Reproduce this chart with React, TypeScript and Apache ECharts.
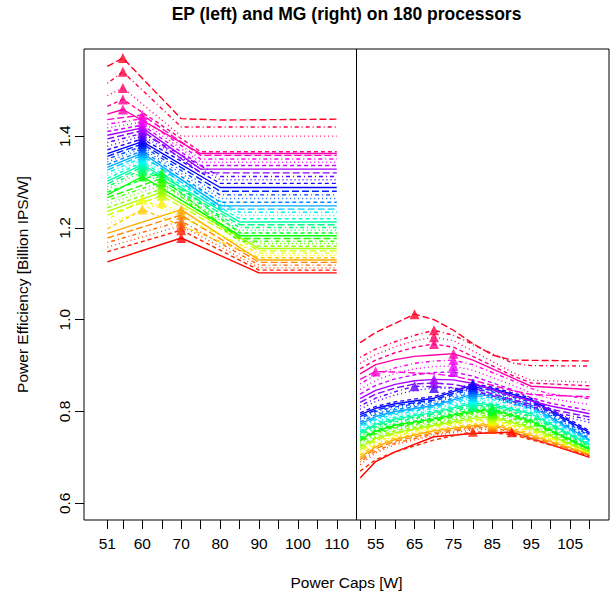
import React, { useEffect, useRef } from "react";
import * as echarts from "echarts";

const TITLE = "EP (left) and MG (right) on 180 processors";
const X_TITLE = "Power Caps [W]";
const Y_TITLE = "Power Efficiency [Billion IPS/W]";
const TICK_CAPS = [51, 55, 60, 65, 70, 75, 80, 85, 90, 95, 100, 105, 110];
const EP_LABEL_CAPS = [51, 60, 70, 80, 90, 100, 110];
const MG_LABEL_CAPS = [55, 65, 75, 85, 95, 105];
const Y_TICKS = [0.6, 0.8, 1.0, 1.2, 1.4];
const MG_OFFSET = 65; // the MG panel sits to the right of EP on one shared axis
const DIVIDER = 115;

// EP: [power cap W, efficiency] at the visible vertices of every 4th processor (sorted, bottom to top)
const epLines: number[][][] = [
  [[51, 1.126], [70, 1.178], [90, 1.102], [110, 1.102]],
  [[51, 1.148], [70, 1.195], [90, 1.108], [110, 1.108]],
  [[51, 1.158], [70, 1.205], [90, 1.113], [110, 1.113]],
  [[51, 1.168], [70, 1.215], [90, 1.119], [110, 1.119]],
  [[51, 1.178], [70, 1.228], [90, 1.125], [110, 1.125]],
  [[51, 1.188], [70, 1.24], [90, 1.13], [110, 1.13]],
  [[51, 1.198], [60, 1.24], [90, 1.135], [110, 1.135]],
  [[51, 1.208], [65, 1.255], [90, 1.14], [110, 1.14]],
  [[51, 1.218], [60, 1.262], [90, 1.145], [110, 1.145]],
  [[51, 1.228], [65, 1.27], [90, 1.15], [110, 1.15]],
  [[51, 1.236], [65, 1.278], [90, 1.155], [110, 1.155]],
  [[51, 1.244], [65, 1.285], [90, 1.16], [110, 1.16]],
  [[51, 1.252], [65, 1.293], [90, 1.166], [110, 1.166]],
  [[51, 1.26], [65, 1.3], [85, 1.171], [110, 1.171]],
  [[51, 1.266], [65, 1.308], [85, 1.177], [110, 1.177]],
  [[51, 1.272], [60, 1.312], [85, 1.183], [110, 1.183]],
  [[51, 1.278], [65, 1.32], [85, 1.189], [110, 1.189]],
  [[51, 1.284], [60, 1.323], [85, 1.195], [110, 1.195]],
  [[51, 1.29], [60, 1.328], [85, 1.201], [110, 1.201]],
  [[51, 1.296], [60, 1.333], [85, 1.207], [110, 1.207]],
  [[51, 1.302], [60, 1.338], [85, 1.213], [110, 1.213]],
  [[51, 1.308], [60, 1.343], [85, 1.22], [110, 1.22]],
  [[51, 1.314], [60, 1.348], [85, 1.227], [110, 1.227]],
  [[51, 1.32], [60, 1.353], [85, 1.234], [110, 1.234]],
  [[51, 1.326], [60, 1.358], [80, 1.241], [110, 1.241]],
  [[51, 1.332], [60, 1.363], [80, 1.248], [110, 1.248]],
  [[51, 1.338], [60, 1.368], [80, 1.256], [110, 1.256]],
  [[51, 1.344], [60, 1.373], [80, 1.264], [110, 1.264]],
  [[51, 1.35], [60, 1.378], [80, 1.272], [110, 1.272]],
  [[51, 1.356], [60, 1.383], [80, 1.28], [110, 1.28]],
  [[51, 1.362], [60, 1.388], [80, 1.288], [110, 1.288]],
  [[51, 1.37], [60, 1.394], [80, 1.297], [110, 1.297]],
  [[51, 1.378], [60, 1.4], [80, 1.305], [110, 1.305]],
  [[51, 1.386], [60, 1.406], [80, 1.312], [110, 1.312]],
  [[51, 1.394], [60, 1.412], [75, 1.32], [110, 1.32]],
  [[51, 1.402], [60, 1.418], [75, 1.328], [110, 1.328]],
  [[51, 1.41], [60, 1.424], [75, 1.336], [110, 1.336]],
  [[51, 1.418], [60, 1.431], [75, 1.343], [110, 1.343]],
  [[51, 1.426], [60, 1.438], [75, 1.35], [110, 1.35]],
  [[51, 1.436], [60, 1.446], [75, 1.358], [110, 1.358]],
  [[51, 1.448], [55, 1.458], [75, 1.362], [110, 1.362]],
  [[51, 1.465], [55, 1.48], [75, 1.366], [110, 1.366]],
  [[51, 1.488], [55, 1.505], [70, 1.4], [110, 1.4]],
  [[51, 1.515], [55, 1.54], [70, 1.42], [110, 1.42]],
  [[51, 1.552], [55, 1.57], [70, 1.438], [80, 1.435], [110, 1.437]],
];

// MG: [power cap W, efficiency] for the same processors
const mgLines: number[][][] = [
  [[51, 0.655], [55, 0.691], [60, 0.712], [70, 0.745], [80, 0.752], [90, 0.755], [100, 0.728], [110, 0.7]],
  [[51, 0.67], [55, 0.695], [60, 0.712], [70, 0.738], [80, 0.756], [90, 0.75], [100, 0.727], [110, 0.703]],
  [[51, 0.684], [55, 0.71], [60, 0.728], [70, 0.748], [80, 0.76], [85, 0.762], [95, 0.74], [110, 0.704]],
  [[51, 0.69], [55, 0.714], [60, 0.731], [70, 0.751], [80, 0.763], [85, 0.766], [95, 0.742], [110, 0.705]],
  [[51, 0.695], [55, 0.719], [60, 0.735], [70, 0.754], [80, 0.766], [85, 0.769], [95, 0.745], [110, 0.706]],
  [[51, 0.7], [55, 0.723], [60, 0.739], [70, 0.758], [80, 0.769], [85, 0.772], [95, 0.748], [110, 0.707]],
  [[51, 0.705], [55, 0.727], [60, 0.742], [70, 0.76], [80, 0.772], [85, 0.775], [95, 0.752], [110, 0.708]],
  [[51, 0.709], [55, 0.731], [60, 0.746], [70, 0.763], [80, 0.775], [85, 0.779], [95, 0.755], [110, 0.709]],
  [[51, 0.713], [55, 0.734], [60, 0.748], [70, 0.765], [80, 0.778], [85, 0.782], [95, 0.757], [110, 0.71]],
  [[51, 0.717], [55, 0.737], [60, 0.752], [70, 0.768], [80, 0.781], [85, 0.785], [95, 0.76], [110, 0.711]],
  [[51, 0.721], [55, 0.741], [60, 0.754], [70, 0.77], [80, 0.785], [85, 0.789], [95, 0.764], [110, 0.712]],
  [[51, 0.725], [55, 0.744], [60, 0.758], [70, 0.773], [80, 0.789], [85, 0.792], [95, 0.767], [110, 0.713]],
  [[51, 0.729], [55, 0.748], [60, 0.761], [70, 0.776], [80, 0.792], [85, 0.795], [95, 0.77], [110, 0.714]],
  [[51, 0.733], [55, 0.751], [60, 0.764], [70, 0.779], [80, 0.795], [85, 0.798], [95, 0.773], [110, 0.716]],
  [[51, 0.736], [55, 0.754], [60, 0.767], [70, 0.781], [80, 0.798], [85, 0.801], [95, 0.776], [110, 0.717]],
  [[51, 0.739], [55, 0.757], [60, 0.77], [70, 0.784], [80, 0.801], [85, 0.804], [95, 0.779], [110, 0.718]],
  [[51, 0.742], [55, 0.76], [60, 0.772], [70, 0.786], [80, 0.804], [85, 0.806], [95, 0.782], [110, 0.72]],
  [[51, 0.745], [55, 0.763], [60, 0.775], [70, 0.789], [80, 0.807], [85, 0.808], [95, 0.785], [110, 0.722]],
  [[51, 0.748], [55, 0.766], [60, 0.778], [70, 0.792], [80, 0.81], [85, 0.81], [95, 0.788], [110, 0.724]],
  [[51, 0.752], [55, 0.769], [60, 0.781], [70, 0.795], [80, 0.814], [85, 0.812], [95, 0.791], [110, 0.726]],
  [[51, 0.755], [55, 0.772], [60, 0.784], [70, 0.798], [80, 0.818], [85, 0.815], [95, 0.795], [110, 0.728]],
  [[51, 0.758], [55, 0.775], [60, 0.787], [70, 0.801], [80, 0.822], [85, 0.818], [95, 0.798], [110, 0.73]],
  [[51, 0.761], [55, 0.778], [60, 0.79], [70, 0.804], [80, 0.826], [85, 0.822], [95, 0.801], [110, 0.732]],
  [[51, 0.765], [55, 0.782], [60, 0.794], [70, 0.807], [80, 0.83], [85, 0.826], [95, 0.804], [110, 0.734]],
  [[51, 0.769], [55, 0.785], [60, 0.797], [70, 0.81], [80, 0.834], [85, 0.83], [95, 0.807], [110, 0.736]],
  [[51, 0.773], [55, 0.789], [60, 0.8], [70, 0.813], [80, 0.838], [85, 0.834], [95, 0.811], [110, 0.738]],
  [[51, 0.777], [55, 0.793], [60, 0.804], [70, 0.816], [80, 0.842], [85, 0.837], [95, 0.814], [110, 0.741]],
  [[51, 0.781], [55, 0.796], [60, 0.807], [70, 0.819], [80, 0.846], [85, 0.84], [95, 0.817], [110, 0.744]],
  [[51, 0.785], [55, 0.8], [60, 0.81], [70, 0.822], [80, 0.85], [85, 0.843], [95, 0.82], [110, 0.747]],
  [[51, 0.789], [55, 0.803], [60, 0.813], [70, 0.825], [80, 0.854], [85, 0.846], [95, 0.823], [110, 0.75]],
  [[51, 0.793], [55, 0.807], [60, 0.817], [70, 0.829], [80, 0.858], [85, 0.85], [95, 0.826], [110, 0.754]],
  [[51, 0.797], [55, 0.811], [60, 0.821], [70, 0.833], [80, 0.861], [85, 0.853], [95, 0.829], [110, 0.758]],
  [[51, 0.805], [55, 0.822], [60, 0.836], [65, 0.846], [70, 0.851], [75, 0.85], [80, 0.843], [90, 0.818], [100, 0.796], [110, 0.776]],
  [[51, 0.812], [55, 0.829], [60, 0.843], [65, 0.855], [70, 0.854], [75, 0.852], [80, 0.846], [90, 0.822], [100, 0.8], [110, 0.782]],
  [[51, 0.82], [55, 0.838], [60, 0.851], [65, 0.86], [70, 0.862], [75, 0.859], [80, 0.851], [90, 0.826], [100, 0.805], [110, 0.788]],
  [[51, 0.828], [55, 0.846], [60, 0.859], [65, 0.867], [70, 0.87], [75, 0.869], [80, 0.861], [90, 0.834], [100, 0.812], [110, 0.795]],
  [[51, 0.838], [55, 0.857], [60, 0.871], [65, 0.88], [70, 0.885], [75, 0.886], [80, 0.877], [90, 0.848], [95, 0.83], [100, 0.818], [110, 0.802]],
  [[51, 0.848], [55, 0.868], [60, 0.883], [65, 0.893], [70, 0.898], [75, 0.899], [80, 0.89], [90, 0.858], [95, 0.84], [100, 0.828], [110, 0.815]],
  [[51, 0.86], [55, 0.88], [60, 0.895], [65, 0.905], [70, 0.91], [75, 0.912], [80, 0.902], [90, 0.868], [95, 0.85], [100, 0.838], [110, 0.828]],
  [[51, 0.87], [55, 0.887], [60, 0.886], [65, 0.884], [70, 0.882], [75, 0.877], [80, 0.868], [90, 0.846], [95, 0.837], [110, 0.832]],
  [[51, 0.882], [55, 0.902], [60, 0.913], [65, 0.92], [70, 0.923], [75, 0.926], [80, 0.912], [90, 0.874], [95, 0.855], [110, 0.848]],
  [[51, 0.893], [55, 0.912], [60, 0.928], [65, 0.94], [70, 0.947], [75, 0.94], [80, 0.92], [90, 0.879], [95, 0.862], [110, 0.856]],
  [[51, 0.905], [55, 0.924], [60, 0.941], [65, 0.954], [70, 0.962], [75, 0.954], [80, 0.932], [90, 0.886], [95, 0.868], [110, 0.864]],
  [[51, 0.918], [55, 0.936], [60, 0.952], [65, 0.966], [70, 0.977], [75, 0.966], [80, 0.946], [90, 0.906], [95, 0.9], [110, 0.899]],
  [[51, 0.95], [55, 0.972], [60, 0.992], [65, 1.012], [70, 1.0], [75, 0.977], [80, 0.948], [85, 0.923], [90, 0.912], [110, 0.91]],
];

const FONT = "'Liberation Sans', Arial, Helvetica, sans-serif";
const DASHES: any[] = ["solid", [4, 3], [1, 3], [1, 3, 4, 3], [7, 3]];

function rainbow(h: number): string {
  const i = Math.floor(h * 6);
  const f = h * 6 - i;
  const q = 1 - f;
  const t = f;
  let r = 0, g = 0, b = 0;
  switch (i % 6) {
    case 0: r = 1; g = t; b = 0; break;
    case 1: r = q; g = 1; b = 0; break;
    case 2: r = 0; g = 1; b = t; break;
    case 3: r = 0; g = q; b = 1; break;
    case 4: r = t; g = 0; b = 1; break;
    default: r = 1; g = 0; b = q; break;
  }
  const hx = (v: number) => Math.round(v * 255).toString(16).padStart(2, "0");
  return "#" + hx(r) + hx(g) + hx(b);
}

function buildOption() {
  const series: any[] = [];
  const panels = [
    { lines: epLines, off: 0 },
    { lines: mgLines, off: MG_OFFSET },
  ];
  panels.forEach(({ lines, off }) => {
    const peaks: any[] = [];
    lines.forEach((pts, i) => {
      const color = rainbow(i / lines.length);
      series.push({
        type: "line",
        data: pts.map(([c, v]) => [c + off, v]),
        symbol: "none",
        silent: true,
        z: 2,
        lineStyle: { color, width: 1.4, type: DASHES[i % 5] },
      });
      let best = pts[0];
      pts.forEach((p) => {
        if (p[1] > best[1]) best = p;
      });
      peaks.push({ value: [best[0] + off, best[1]], itemStyle: { color } });
    });
    series.push({
      type: "scatter",
      data: peaks,
      symbol: "triangle",
      symbolSize: 10,
      silent: true,
      z: 3,
    });
  });
  series[0].markLine = {
    symbol: "none",
    silent: true,
    label: { show: false },
    lineStyle: { color: "#000", width: 1, type: "solid" },
    data: [{ xAxis: DIVIDER }],
  };

  return {
    animation: false,
    backgroundColor: "#fff",
    grid: {
      left: 84,
      top: 49,
      width: 525,
      height: 471,
      show: true,
      borderColor: "#000",
      borderWidth: 1,
    },
    xAxis: {
      type: "value",
      min: 45,
      max: 180,
      axisLine: { show: false },
      splitLine: { show: false },
      axisTick: {
        show: true,
        length: 9,
        lineStyle: { color: "#000", width: 1 },
        customValues: [...TICK_CAPS, ...TICK_CAPS.map((c) => c + MG_OFFSET)],
      },
      axisLabel: {
        customValues: [...EP_LABEL_CAPS, ...MG_LABEL_CAPS.map((c) => c + MG_OFFSET)],
        formatter: (v: number) => String(v > DIVIDER ? v - MG_OFFSET : v),
        fontSize: 15.5,
        fontFamily: FONT,
        color: "#000",
        margin: 15,
      },
    },
    yAxis: {
      type: "value",
      min: 0.5636,
      max: 1.5898,
      axisLine: { show: false },
      splitLine: { show: false },
      axisTick: {
        show: true,
        length: 9,
        lineStyle: { color: "#000", width: 1 },
        customValues: Y_TICKS,
      },
      axisLabel: {
        customValues: Y_TICKS,
        rotate: 90,
        formatter: (v: number) => v.toFixed(1),
        fontSize: 15.5,
        fontFamily: FONT,
        color: "#000",
        margin: 12,
      },
    },
    graphic: [
      {
        type: "text",
        x: 346.5,
        y: 14,
        style: {
          text: TITLE,
          fontSize: 17.5,
          fontWeight: "bold",
          fontFamily: FONT,
          fill: "#000",
          align: "center",
          verticalAlign: "middle",
        },
      },
      {
        type: "text",
        x: 346.5,
        y: 582,
        style: {
          text: X_TITLE,
          fontSize: 15.5,
          fontFamily: FONT,
          fill: "#000",
          align: "center",
          verticalAlign: "middle",
        },
      },
      {
        type: "text",
        x: 22,
        y: 284.5,
        rotation: Math.PI / 2,
        style: {
          text: Y_TITLE,
          fontSize: 15.5,
          fontFamily: FONT,
          fill: "#000",
          align: "center",
          verticalAlign: "middle",
        },
      },
    ],
    series,
  };
}

export default function App() {
  const ref = useRef<HTMLDivElement>(null);
  useEffect(() => {
    if (!ref.current) return;
    const chart = echarts.init(ref.current, undefined, { renderer: "svg" });
    chart.setOption(buildOption() as any);
    return () => chart.dispose();
  }, []);
  return (
    <div
      ref={ref}
      style={{ position: "absolute", left: 0, top: 0, width: 616, height: 595, background: "#fff" }}
    />
  );
}
